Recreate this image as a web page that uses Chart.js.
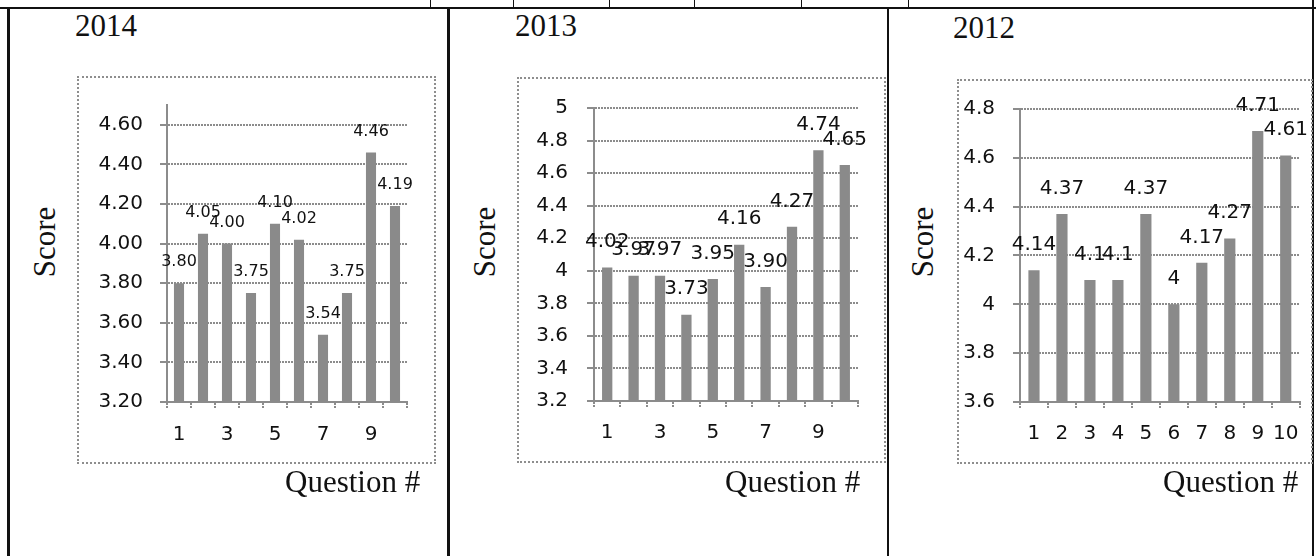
<!DOCTYPE html>
<html>
<head>
<meta charset="utf-8">
<script src="https://cdn.jsdelivr.net/npm/chart.js@4/dist/chart.umd.min.js"></script>
<style>
  html, body { margin: 0; padding: 0; background: #fff; }
  #page { position: relative; width: 1316px; height: 556px; overflow: hidden; background: #fff; }
  .rule { position: absolute; background: #111; }
  .serif { position: absolute; font-family: "Liberation Serif", "DejaVu Serif", serif; font-size: 31px; line-height: 31px; color: #111; white-space: nowrap; }
  .rot { transform: translate(-50%, -50%) rotate(-90deg); }
  .frame { position: absolute; box-sizing: border-box; border: 2px dotted #8e8e8e; pointer-events: none; }
  canvas { position: absolute; }
</style>
</head>
<body>
<div id="page">
  <!-- table rules -->
  <div class="rule" style="left:0;top:7px;width:1316px;height:2px"></div>
  <div class="rule" style="left:430px;top:0;width:1px;height:8px"></div>
  <div class="rule" style="left:513px;top:0;width:1px;height:8px"></div>
  <div class="rule" style="left:609px;top:0;width:1px;height:8px"></div>
  <div class="rule" style="left:694px;top:0;width:1px;height:8px"></div>
  <div class="rule" style="left:801px;top:0;width:1px;height:8px"></div>
  <div class="rule" style="left:908px;top:0;width:1px;height:8px"></div>
  <div class="rule" style="left:7px;top:7px;width:3px;height:549px"></div>
  <div class="rule" style="left:447px;top:7px;width:3px;height:549px"></div>
  <div class="rule" style="left:887px;top:7px;width:2px;height:549px"></div>
  <div class="rule" style="left:1312px;top:0;width:2px;height:556px"></div>

  <!-- 2014 -->
  <div class="serif" style="left:75px;top:10px">2014</div>
  <canvas id="c2014" width="359" height="388" style="left:77px;top:76px"></canvas>
  <div class="frame" style="left:77px;top:76px;width:359px;height:388px"></div>
  <div class="serif rot" style="left:44px;top:242px">Score</div>
  <div class="serif" style="left:285px;top:466px">Question #</div>

  <!-- 2013 -->
  <div class="serif" style="left:515px;top:10px">2013</div>
  <canvas id="c2013" width="369" height="386" style="left:517px;top:77px"></canvas>
  <div class="frame" style="left:517px;top:77px;width:369px;height:386px"></div>
  <div class="serif rot" style="left:484px;top:242px">Score</div>
  <div class="serif" style="left:725px;top:466px">Question #</div>

  <!-- 2012 -->
  <div class="serif" style="left:953px;top:12px">2012</div>
  <canvas id="c2012" width="356" height="385" style="left:957px;top:79px"></canvas>
  <div class="frame" style="left:957px;top:79px;width:356px;height:385px"></div>
  <div class="serif rot" style="left:922px;top:242px">Score</div>
  <div class="serif" style="left:1163px;top:466px">Question #</div>
</div>

<script>
// Question numbers along the x axis
const questions = ['1', '2', '3', '4', '5', '6', '7', '8', '9', '10'];
// Labels printed under the bars (every other one on the narrower charts)
const oddQuestionLabels = ['1', '', '3', '', '5', '', '7', '', '9', ''];
const allQuestionLabels = ['1', '2', '3', '4', '5', '6', '7', '8', '9', '10'];

// Mean score per question, by year
const scores2014 = [3.80, 4.05, 4.00, 3.75, 4.10, 4.02, 3.54, 3.75, 4.46, 4.19];
const scores2013 = [4.02, 3.97, 3.97, 3.73, 3.95, 4.16, 3.90, 4.27, 4.74, 4.65];
const scores2012 = [4.14, 4.37, 4.1, 4.1, 4.37, 4, 4.17, 4.27, 4.71, 4.61];

// Score axis tick labels and ranges
const scoreTicks2014 = ['3.20', '3.40', '3.60', '3.80', '4.00', '4.20', '4.40', '4.60'];
const scoreTicks2013 = ['3.2', '3.4', '3.6', '3.8', '4', '4.2', '4.4', '4.6', '4.8', '5'];
const scoreTicks2012 = ['3.6', '3.8', '4', '4.2', '4.4', '4.6', '4.8'];
const scoreRange2014 = [3.2, 4.7];
const scoreRange2013 = [3.2, 5.0];
const scoreRange2012 = [3.6, 4.8];

const SANS = '"DejaVu Sans", Verdana, sans-serif';
const TEXT = '#111111';
const BAR_GRAY = '#8a8a8a';
const GRID_GRAY = '#8c8c8c';
const AXIS_GRAY = '#8c8c8c';

// Value printed above each bar
function valueLabels(format, size, gap) {
  return {
    id: 'valueLabels',
    afterDatasetsDraw(chart) {
      const ctx = chart.ctx;
      const meta = chart.getDatasetMeta(0);
      const values = chart.data.datasets[0].data;
      ctx.save();
      ctx.font = size + 'px ' + SANS;
      ctx.fillStyle = TEXT;
      ctx.textAlign = 'center';
      ctx.textBaseline = 'middle';
      meta.data.forEach((bar, i) => {
        ctx.fillText(format(values[i]), bar.x, bar.y - gap);
      });
      ctx.restore();
    }
  };
}

function scoreChart(canvasId, values, range, yTicks, xLabels, fmt, lay) {
  return new Chart(document.getElementById(canvasId), {
    type: 'bar',
    data: {
      labels: questions,
      datasets: [{
        data: values,
        backgroundColor: BAR_GRAY,
        borderWidth: 0,
        barPercentage: lay.barPct,
        categoryPercentage: 1
      }]
    },
    options: {
      responsive: false,
      animation: false,
      events: [],
      layout: { padding: { left: 0, top: lay.padTop, right: lay.padRight, bottom: 0 } },
      plugins: {
        legend: { display: false },
        tooltip: { enabled: false },
        title: { display: false }
      },
      scales: {
        x: {
          offset: true,
          grid: { display: true, drawOnChartArea: false, drawTicks: true, tickLength: 6, color: GRID_GRAY, lineWidth: 2, offset: true, tickBorderDash: [2, 1] },
          border: { display: true, color: AXIS_GRAY, width: 2 },
          ticks: {
            autoSkip: false, maxRotation: 0, minRotation: 0,
            padding: lay.xPad, color: TEXT,
            font: { family: SANS, size: 20 },
            callback: (v, i) => xLabels[i]
          },
          afterFit: s => { s.height = lay.xHeight; }
        },
        y: {
          min: range[0],
          max: range[1],
          afterBuildTicks: s => { s.ticks = yTicks.map(t => ({ value: parseFloat(t) })); },
          grid: { color: GRID_GRAY, lineWidth: 2, drawTicks: true, tickLength: 7 },
          border: { display: true, color: AXIS_GRAY, width: 2, dash: [2, 1] },
          ticks: {
            padding: lay.yPad, color: TEXT,
            font: { family: SANS, size: 20 },
            callback: (v, i) => yTicks[i]
          },
          afterFit: s => { s.width = lay.yWidth; }
        }
      }
    },
    plugins: [valueLabels(fmt, lay.labelSize, lay.labelGap)]
  });
}

const twoDecimals = v => v.toFixed(2);
const asWritten = v => String(v);

scoreChart('c2014', scores2014, scoreRange2014, scoreTicks2014, oddQuestionLabels, twoDecimals,
  { yWidth: 90, padTop: 27, padRight: 29, xHeight: 62, yPad: 17, xPad: 15, barPct: 0.42, labelSize: 16, labelGap: 21 });

scoreChart('c2013', scores2013, scoreRange2013, scoreTicks2013, oddQuestionLabels, twoDecimals,
  { yWidth: 77, padTop: 29, padRight: 28, xHeight: 62, yPad: 19, xPad: 14, barPct: 0.39, labelSize: 20, labelGap: 25.5 });

scoreChart('c2012', scores2012, scoreRange2012, scoreTicks2012, allQuestionLabels, asWritten,
  { yWidth: 63, padTop: 15, padRight: 11, xHeight: 62, yPad: 18, xPad: 14, barPct: 0.4, labelSize: 20, labelGap: 25.5 });
</script>
</body>
</html>
